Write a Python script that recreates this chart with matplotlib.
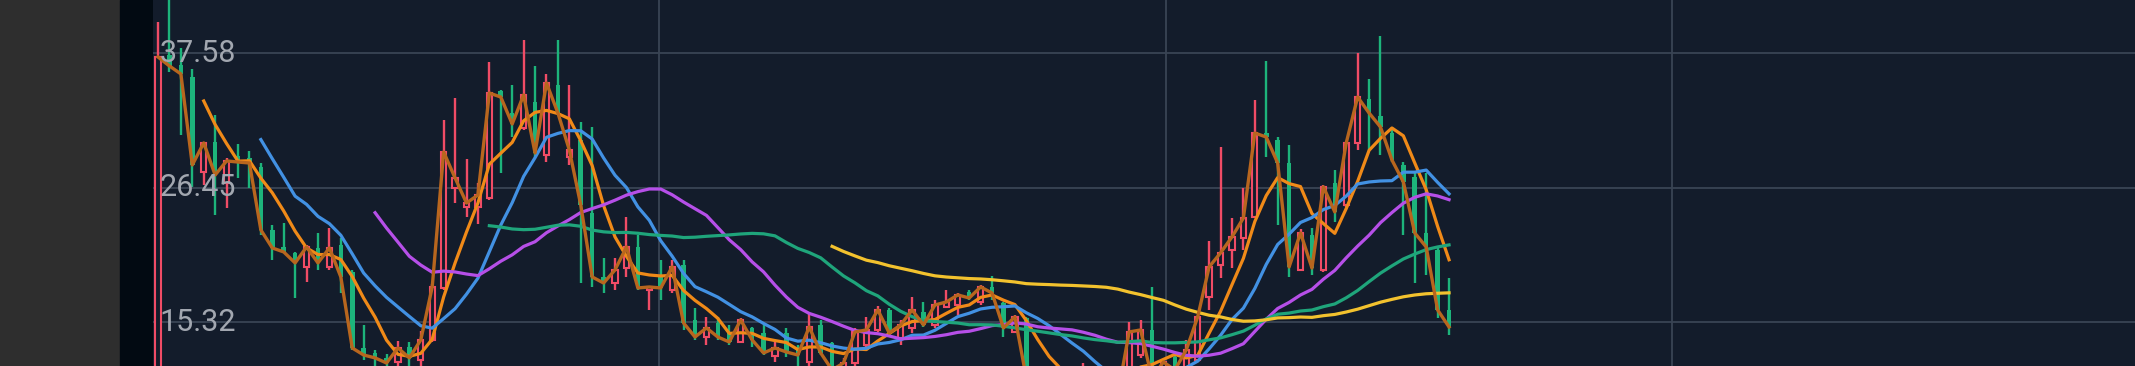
import matplotlib
matplotlib.use("Agg")
import matplotlib.pyplot as plt
from matplotlib.patches import Rectangle
import numpy as np
import pandas as pd

# daily candles (price units)
opens = [9.0, 37.42, 36.59, 35.60, 27.74, 30.22, 26.83, 29.06, 28.90, 28.15,
         22.94, 21.53, 21.04, 19.88, 21.45, 19.88, 21.70, 19.46, 13.17, 12.76,
         12.35, 12.01, 13.25, 12.18, 13.84, 18.14, 26.41, 24.84, 24.84, 25.58,
         34.44, 32.62, 31.38, 33.53, 29.14, 34.94, 28.98, 30.39, 24.34, 19.05,
         18.55, 19.79, 21.53, 17.97, 19.05, 17.97, 20.04, 15.49, 14.08, 15.24,
         14.50, 13.67, 14.83, 14.41, 12.51, 14.41, 13.01, 12.01, 15.08, 13.59,
         10.69, 11.93, 13.42, 14.66, 16.32, 14.00, 14.83, 16.15, 15.08, 16.57,
         16.73, 17.81, 16.98, 18.22, 16.90, 14.50, 15.65, 11.0, 10.2, 10.6,
         9.9, 10.1, 10.5, 9.6, 10.2, 9.6, 12.59, 14.66, 10.11, 12.43,
         10.94, 12.18, 17.39, 20.04, 21.28, 22.28, 24.01, 30.96, 30.39, 28.48,
         19.63, 22.52, 19.63, 26.83, 25.01, 30.14, 33.78, 32.37, 30.96, 28.32,
         27.32, 22.69, 21.28, 16.32]
highs = [40.15, 42.4, 38.00, 36.26, 30.22, 32.45, 28.90, 30.05, 29.47, 28.48,
         23.35, 23.52, 21.12, 21.70, 22.69, 23.10, 22.28, 19.63, 15.08, 13.01,
         12.67, 13.75, 13.67, 14.58, 18.47, 32.04, 33.86, 28.81, 26.83, 36.84,
         34.52, 34.94, 38.66, 36.51, 35.85, 38.66, 34.94, 31.87, 31.46, 20.62,
         20.62, 24.01, 22.52, 18.30, 20.46, 20.46, 20.46, 16.48, 15.74, 15.74,
         15.08, 15.65, 14.91, 15.08, 13.67, 14.83, 13.42, 16.07, 15.49, 13.67,
         12.35, 14.83, 15.74, 16.65, 16.48, 15.49, 17.39, 16.98, 17.15, 17.97,
         17.72, 17.97, 18.39, 19.13, 16.98, 15.90, 15.74, 11.3, 11.2, 11.0,
         11.0, 11.93, 11.0, 10.6, 10.8, 15.32, 15.49, 18.22, 12.18, 12.59,
         13.84, 15.90, 22.03, 29.81, 23.93, 26.41, 33.70, 36.92, 30.63, 29.97,
         23.02, 23.10, 26.66, 27.90, 30.22, 37.58, 35.43, 38.99, 31.46, 28.56,
         27.65, 27.65, 21.45, 18.97]
lows = [8.5, 36.01, 30.80, 26.50, 26.66, 24.18, 24.76, 27.24, 26.41, 22.52,
        20.46, 21.04, 17.31, 18.64, 19.63, 19.63, 17.72, 13.01, 12.18, 11.52,
        10.94, 11.35, 11.52, 11.35, 13.67, 17.97, 25.17, 24.01, 23.43, 25.42,
        27.65, 30.63, 31.21, 28.98, 28.56, 32.45, 28.32, 18.55, 18.22, 17.72,
        17.97, 19.05, 17.97, 16.32, 17.15, 17.72, 14.66, 13.84, 13.42, 13.84,
        13.42, 13.59, 13.25, 12.59, 12.01, 12.43, 11.68, 11.35, 12.59, 10.53,
        10.11, 11.52, 13.01, 14.50, 14.25, 13.42, 14.41, 14.91, 14.83, 16.57,
        15.90, 17.15, 16.73, 17.15, 14.08, 14.41, 10.11, 10.0, 9.9, 9.5,
        9.6, 9.8, 9.4, 9.3, 9.0, 9.3, 12.35, 10.11, 9.70, 10.53,
        10.53, 12.01, 16.32, 18.97, 19.79, 21.28, 23.93, 28.98, 23.35, 19.05,
        19.55, 19.21, 19.46, 23.60, 24.84, 29.56, 29.56, 29.14, 28.56, 22.52,
        18.55, 19.21, 15.65, 14.25]
closes = [37.25, 36.51, 35.85, 28.32, 30.14, 27.49, 28.65, 28.56, 28.48, 22.94,
          21.45, 21.12, 20.21, 21.53, 20.21, 21.45, 19.05, 13.17, 12.59, 12.35,
          11.93, 13.17, 12.35, 13.84, 18.22, 29.39, 27.24, 25.17, 25.83, 34.27,
          33.94, 31.71, 34.11, 29.31, 35.10, 32.62, 29.56, 25.01, 19.05, 18.55,
          19.63, 21.53, 18.14, 18.22, 18.14, 19.88, 15.24, 14.08, 14.83, 14.08,
          13.67, 15.49, 13.84, 12.76, 13.17, 12.84, 12.59, 14.91, 12.76, 11.35,
          11.93, 14.50, 14.66, 16.32, 14.41, 15.08, 16.32, 15.08, 16.73, 16.98,
          17.56, 17.31, 18.22, 17.72, 14.83, 15.74, 10.69, 10.36, 10.69, 9.86,
          10.36, 10.53, 9.70, 9.86, 9.28, 14.50, 14.66, 10.69, 12.01, 11.35,
          13.01, 15.74, 19.88, 21.04, 22.36, 23.93, 30.96, 30.63, 28.48, 19.88,
          22.69, 19.79, 26.50, 24.43, 30.14, 33.94, 32.62, 31.46, 28.73, 26.91,
          22.69, 21.53, 16.32, 14.91]

price_ticks = [15.32, 26.45, 37.58]
ma_periods = [5, 10, 20, 30, 60]
ma_colors = ["#f08a18", "#4291e3", "#b64fe8", "#1fa57b", "#f3c22e"]

BG = "#131c2b"
UP = "#f04c66"
DOWN = "#1db47b"
GRID = "#394454"

W, H = 2135, 366
fig = plt.figure(figsize=(W / 100, H / 100), dpi=100, facecolor="#2e2e2e")
fig.add_artist(Rectangle((120 / W, 0), 33 / W, 1, transform=fig.transFigure,
                         color="#020a12", zorder=0))
ax = fig.add_axes([153 / W, 0, 1 - 153 / W, 1])
ax.set_facecolor(BG)

o = np.array(opens)
h = np.array(highs)
l = np.array(lows)
c = np.array(closes)
x = np.arange(len(c))
up = c >= o

# wicks
ax.vlines(x, l, h, colors=np.where(up, UP, DOWN), lw=1.7, zorder=2)
# bodies: hollow red for up days, solid green for down days
body_lo = np.minimum(o, c)
body_h = np.maximum(np.abs(c - o), 0.1)
ax.bar(x[up], body_h[up], bottom=body_lo[up], width=0.46, facecolor=BG,
       edgecolor=UP, lw=1.5, zorder=3)
ax.bar(x[~up], body_h[~up], bottom=body_lo[~up], width=0.4, color=DOWN,
       lw=0, zorder=3)

# close line and moving averages
s = pd.Series(closes)
ax.plot(x, c, color="#b8661e", lw=2.4, zorder=5)
for n, col in zip(ma_periods, ma_colors):
    ax.plot(x, s.rolling(n).mean(), color=col, lw=2.3, zorder=4)

ax.set_xlim(-0.44, 173.04)
ax.set_ylim(11.68, 41.97)
ax.set_yticks(price_ticks)
ax.set_xticks([43.85, 88.2, 132.5])
ax.grid(True, color=GRID, lw=1.3, zorder=1)
ax.set_axisbelow(True)
ax.tick_params(length=0, labelleft=False, labelbottom=False)
for sp in ax.spines.values():
    sp.set_visible(False)

for p in price_ticks:
    ax.text(0.0035, p, f"{p:.2f}", transform=ax.get_yaxis_transform(),
            fontfamily="Roboto", fontsize=22, color="#a2a7b0",
            va="center", ha="left", zorder=6)

fig.savefig("out.png", dpi=100, facecolor=fig.get_facecolor())
